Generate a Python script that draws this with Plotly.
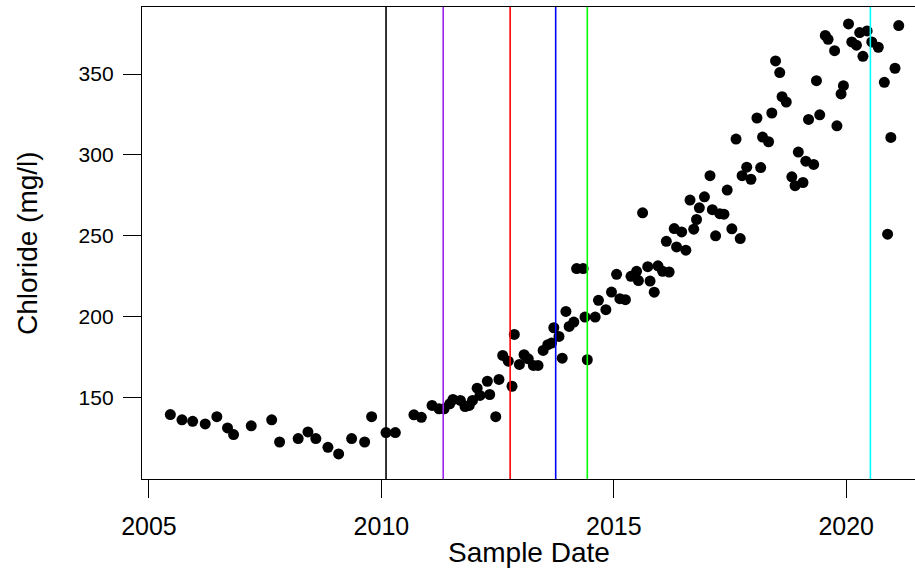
import plotly.graph_objects as go

# Sample dates (decimal years) and chloride concentrations (mg/l)
sample_year = [
    2005.46, 2005.71, 2005.94, 2006.21, 2006.46, 2006.69, 2006.82, 2007.20, 2007.64, 2007.81,
    2008.21, 2008.42, 2008.59, 2008.85, 2009.08, 2009.36, 2009.64, 2009.79, 2010.10, 2010.30,
    2010.70, 2010.86, 2011.09, 2011.24, 2011.35, 2011.47, 2011.54, 2011.70, 2011.80, 2011.89,
    2011.96, 2012.06, 2012.12, 2012.28, 2012.33, 2012.46, 2012.53, 2012.61, 2012.73, 2012.81,
    2012.86, 2012.97, 2013.07, 2013.16, 2013.27, 2013.37, 2013.48, 2013.58, 2013.66, 2013.71,
    2013.82, 2013.89, 2013.97, 2014.04, 2014.14, 2014.20, 2014.34, 2014.38, 2014.43, 2014.60,
    2014.67, 2014.83, 2014.95, 2015.06, 2015.13, 2015.25, 2015.37, 2015.49, 2015.53, 2015.62,
    2015.73, 2015.78, 2015.87, 2015.95, 2016.05, 2016.13, 2016.19, 2016.30, 2016.35, 2016.46,
    2016.55, 2016.64, 2016.72, 2016.78, 2016.84, 2016.95, 2017.07, 2017.12, 2017.19, 2017.28,
    2017.37, 2017.44, 2017.54, 2017.63, 2017.72, 2017.76, 2017.86, 2017.95, 2018.08, 2018.16,
    2018.20, 2018.33, 2018.40, 2018.48, 2018.57, 2018.62, 2018.71, 2018.83, 2018.90, 2018.97,
    2019.07, 2019.13, 2019.19, 2019.30, 2019.36, 2019.43, 2019.55, 2019.61, 2019.75, 2019.80,
    2019.89, 2019.94, 2020.05, 2020.12, 2020.22, 2020.29, 2020.36, 2020.45, 2020.55, 2020.69,
    2020.82, 2020.89, 2020.96, 2021.05, 2021.13,
]
chloride = [
    139.3, 136.0, 135.1, 133.5, 138.0, 131.0, 126.9, 132.3, 136.0, 122.3,
    124.4, 128.5, 124.4, 119.0, 114.9, 124.4, 122.3, 138.0, 128.1, 128.1,
    139.1, 137.6, 144.9, 142.8, 142.8, 145.9, 148.6, 148.0, 144.2, 144.9,
    148.0, 155.6, 151.1, 159.9, 151.7, 138.0, 161.0, 175.9, 172.3, 156.8,
    188.9, 170.3, 176.3, 173.8, 169.7, 169.7, 179.0, 182.5, 183.5, 193.0,
    187.6, 174.2, 203.1, 193.8, 196.5, 229.6, 229.6, 199.6, 173.2, 199.6,
    210.0, 204.2, 215.1, 226.1, 211.0, 210.4, 224.8, 227.9, 222.2, 264.1,
    230.8, 221.9, 215.0, 231.3, 227.9, 246.5, 227.5, 254.4, 243.0, 252.3,
    241.0, 272.0, 254.0, 260.0, 267.2, 274.0, 287.1, 266.1, 249.9, 263.6,
    263.3, 278.2, 254.2, 309.8, 248.2, 287.1, 292.4, 284.9, 322.8, 292.1,
    311.0, 308.1, 325.9, 358.1, 350.9, 336.0, 332.7, 286.4, 280.9, 301.7,
    282.9, 296.1, 321.9, 294.1, 345.9, 324.8, 373.9, 371.5, 364.5, 318.0,
    337.7, 342.8, 381.0, 369.9, 367.9, 375.7, 361.0, 376.7, 369.9, 366.6,
    344.9, 250.9, 310.8, 353.6, 380.0,
]

# Reference vertical lines (decimal years) and their colours
vline_year = [2010.10, 2011.33, 2012.77, 2013.75, 2014.43, 2020.52]
vline_color = ["black", "#A020F0", "red", "blue", "#00FF00", "#00FFFF"]

x_ticks = [2005, 2010, 2015, 2020]
y_ticks = [150, 200, 250, 300, 350]

FONT = "Liberation Sans, Arial, sans-serif"

fig = go.Figure()
fig.add_trace(go.Scatter(
    x=sample_year, y=chloride, mode="markers",
    marker=dict(color="black", size=11, line=dict(width=0)),
    hoverinfo="x+y", showlegend=False,
))

for xv, col in zip(vline_year, vline_color):
    fig.add_shape(type="line", xref="x", yref="paper", x0=xv, x1=xv, y0=0, y1=1,
                  line=dict(color=col, width=1.6), layer="above")

fig.update_layout(
    width=915, height=571,
    margin=dict(l=142, r=0, t=7, b=92),
    paper_bgcolor="white", plot_bgcolor="white",
    font=dict(family=FONT, size=22, color="black"),
    xaxis=dict(
        range=[2004.85, 2021.48], tickmode="array", tickvals=x_ticks,
        ticktext=[str(v) for v in x_ticks],
        ticks="outside", ticklen=18, tickwidth=1.3, tickcolor="black",
        showline=True, linecolor="black", linewidth=1.3, mirror=True,
        showgrid=False, zeroline=False, ticklabelstandoff=7,
        tickfont=dict(family=FONT, size=25, color="black"),
    ),
    yaxis=dict(
        range=[99.4, 391.5], tickmode="array", tickvals=y_ticks,
        ticktext=[str(v) for v in y_ticks],
        ticks="outside", ticklen=18, tickwidth=1.3, tickcolor="black",
        showline=True, linecolor="black", linewidth=1.3, mirror=False,
        showgrid=False, zeroline=False, ticklabelstandoff=5,
        tickfont=dict(family=FONT, size=21, color="black"),
    ),
    annotations=[
        dict(text="Sample Date", xref="paper", yref="paper", x=0.5, y=0,
             xanchor="center", yanchor="middle", yshift=-73, showarrow=False,
             font=dict(family=FONT, size=28, color="black")),
        dict(text="Chloride (mg/l)", xref="paper", yref="paper", x=0, y=0.5,
             xanchor="center", yanchor="middle", xshift=-115, textangle=-90,
             showarrow=False, font=dict(family=FONT, size=28, color="black")),
    ],
)

fig.write_html("out.html", config={"displayModeBar": False},
               post_script="document.body.style.margin='0';")
